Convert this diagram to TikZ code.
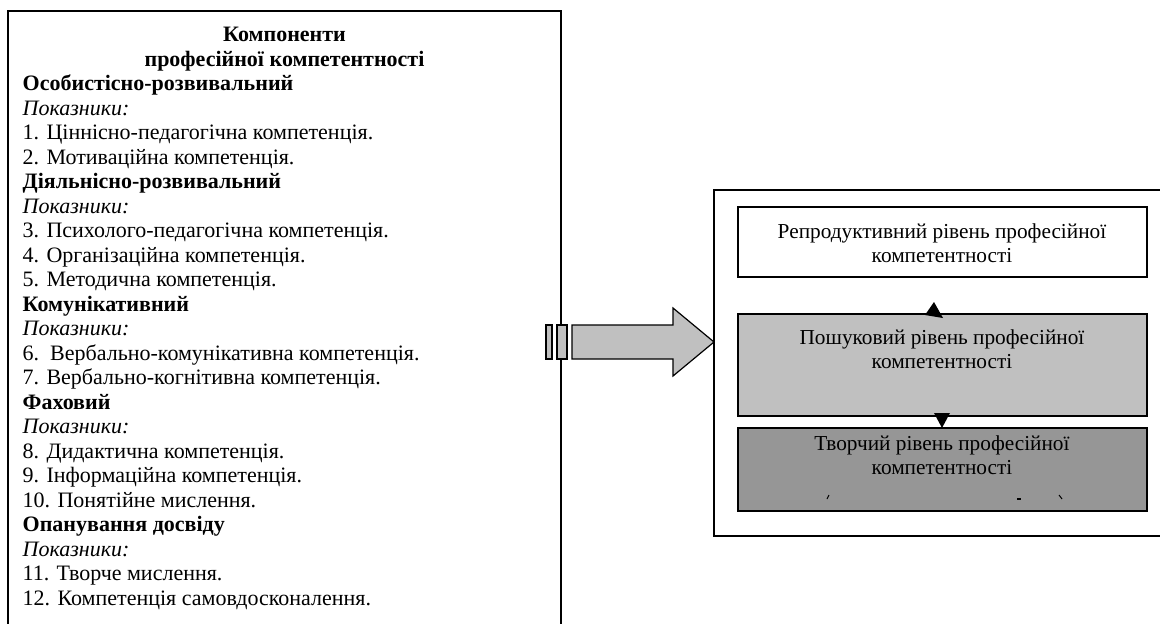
\documentclass[tikz,border=0pt]{standalone}
\usepackage{fontspec}
\setmainfont{Liberation Serif}
\begin{document}
\begin{tikzpicture}[x=1pt,y=-1pt]
\useasboundingbox (0,0) rectangle (1160,624);
\clip (0,0) rectangle (1160,624);
\tikzset{
  frame/.style={draw, line width=2pt, inner sep=0pt, outer sep=0pt},
  lvl/.style={draw, line width=1.6pt, inner sep=0pt, outer sep=0pt},
  txt/.style={inner sep=0pt, font=\fontsize{22}{24.5}\selectfont},
  ttl/.style={txt, anchor=base, font=\fontsize{22}{24.5}\selectfont\bfseries},
  itm/.style={txt, anchor=base west},
  hd/.style={itm, font=\fontsize{22}{24.5}\selectfont\bfseries},
  sub/.style={itm, font=\fontsize{22}{24.5}\selectfont\itshape},
  lvltxt/.style={inner sep=0pt, anchor=base, font=\fontsize{21.3}{24}\selectfont},
  gray1/.style={fill={rgb,255:red,192;green,192;blue,192}},
  gray2/.style={fill={rgb,255:red,150;green,150;blue,150}},
  tri/.style={fill=black}
}
% left frame
\node[frame, anchor=north west, minimum width=553pt, minimum height=660pt] (left) at (8,11) {};
\def\bl#1{41.5+24.5*#1}
\def\lx{22.5}
\node[ttl] (t0) at (284.5,{\bl{0}}) {Компоненти};
\node[ttl] (t1) at (284.5,{\bl{1}}) {професійної компетентності};
\node[hd]  (l2) at (\lx,{\bl{2}}) {Особистісно-розвивальний};
\node[sub] (l3) at (\lx,{\bl{3}}) {Показники:};
\node[itm] (l4) at (\lx,{\bl{4}}) {1. Ціннісно-педагогічна компетенція.};
\node[itm] (l5) at (\lx,{\bl{5}}) {2. Мотиваційна компетенція.};
\node[hd]  (l6) at (\lx,{\bl{6}}) {Діяльнісно-розвивальний};
\node[sub] (l7) at (\lx,{\bl{7}}) {Показники:};
\node[itm] (l8) at (\lx,{\bl{8}}) {3. Психолого-педагогічна компетенція.};
\node[itm] (l9) at (\lx,{\bl{9}}) {4. Організаційна компетенція.};
\node[itm] (l10) at (\lx,{\bl{10}}) {5. Методична компетенція.};
\node[hd]  (l11) at (\lx,{\bl{11}}) {Комунікативний};
\node[sub] (l12) at (\lx,{\bl{12}}) {Показники:};
\node[itm] (l13) at (\lx,{\bl{13}}) {6.\ \ Вербально-комунікативна компетенція.};
\node[itm] (l14) at (\lx,{\bl{14}}) {7. Вербально-когнітивна компетенція.};
\node[hd]  (l15) at (\lx,{\bl{15}}) {Фаховий};
\node[sub] (l16) at (\lx,{\bl{16}}) {Показники:};
\node[itm] (l17) at (\lx,{\bl{17}}) {8. Дидактична компетенція.};
\node[itm] (l18) at (\lx,{\bl{18}}) {9. Інформаційна компетенція.};
\node[itm] (l19) at (\lx,{\bl{19}}) {10. Понятійне мислення.};
\node[hd]  (l20) at (\lx,{\bl{20}}) {Опанування досвіду};
\node[sub] (l21) at (\lx,{\bl{21}}) {Показники:};
\node[itm] (l22) at (\lx,{\bl{22}}) {11. Творче мислення.};
\node[itm] (l23) at (\lx,{\bl{23}}) {12. Компетенція самовдосконалення.};
% right frame
\node[frame, anchor=north west, minimum width=470pt, minimum height=346pt] (right) at (714,190) {};
% level boxes
\node[lvl, fill=white, anchor=north west, minimum width=409pt, minimum height=70pt] (b1) at (738,207) {};
\node[lvl, gray1, anchor=north west, minimum width=409pt, minimum height=102pt] (b2) at (738,314) {};
\node[lvl, gray2, anchor=north west, minimum width=409pt, minimum height=83pt] (b3) at (738,428) {};
\node[lvltxt] (r1a) at (942,238.5) {Репродуктивний рівень професійної};
\node[lvltxt] (r1b) at (942,262.5) {компетентності};
\node[lvltxt] (r2a) at (942,344) {Пошуковий рівень професійної};
\node[lvltxt] (r2b) at (942,368) {компетентності};
\node[lvltxt] (r3a) at (942,450) {Творчий рівень професійної};
\node[lvltxt] (r3b) at (942,474) {компетентності};
% clipped remnants of a third line
\draw[line width=1pt] (829,495) -- (827,499);
\draw[line width=1.5pt] (1017,499) -- (1021,499);
\draw[line width=1pt] (1059,495) -- (1062,499);
% arrowheads between levels
\fill[tri] (934,302) -- (925,315) -- (943,318) -- cycle;
\fill[tri] (934,413) -- (950,413) -- (942,428) -- cycle;
% block arrow
\draw[gray1, line width=1.2pt] (546,325) rectangle (552,359);
\draw[gray1, line width=1.2pt] (557,325) rectangle (567,359);
\draw[gray1, line width=1.2pt, line join=miter]
  (572,325) -- (673,325) -- (673,308) -- (right.west |- 0,342) -- (673,376) -- (673,359) -- (572,359) -- cycle;
\end{tikzpicture}
\end{document}
